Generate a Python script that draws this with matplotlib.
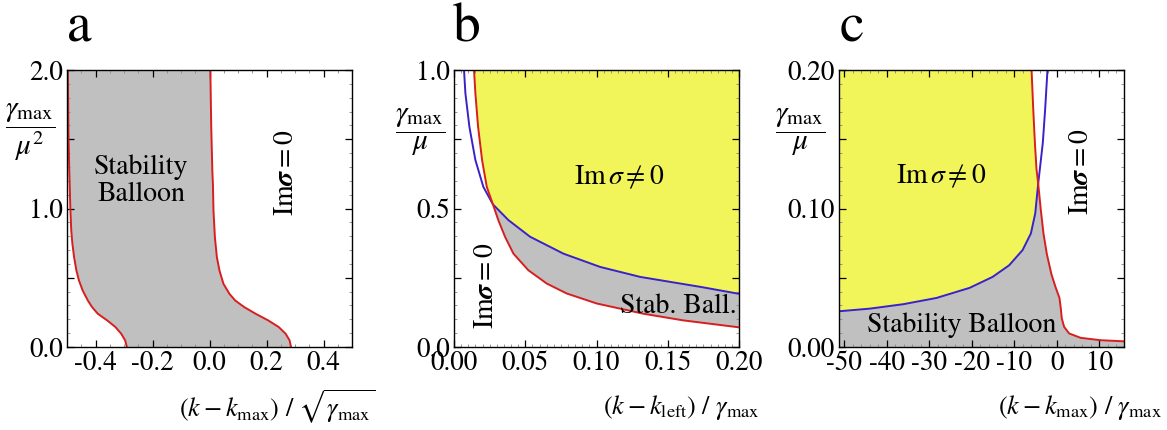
import matplotlib
matplotlib.use("Agg")
import matplotlib.pyplot as plt
from matplotlib.ticker import MultipleLocator, FixedLocator, FixedFormatter

plt.rcParams['font.family'] = ['STIXGeneral', 'Liberation Serif', 'DejaVu Serif']
plt.rcParams['mathtext.fontset'] = 'stix'

# ---------------- Panel a data ----------------
a_left_y = [0.0, 0.048, 0.096, 0.144, 0.192, 0.240, 0.288, 0.336, 0.408, 0.480, 0.552,
            0.647, 0.743, 0.839, 0.983, 1.127, 1.27, 1.55, 2.0]
a_left_x = [-0.290, -0.296, -0.310, -0.330, -0.359, -0.392, -0.412, -0.427, -0.445, -0.458, -0.467,
            -0.475, -0.481, -0.485, -0.488, -0.490, -0.492, -0.495, -0.497]
a_right_y = [0.0, 0.048, 0.096, 0.144, 0.192, 0.240, 0.288, 0.336, 0.384, 0.456, 0.552,
             0.647, 0.791, 0.983, 1.175, 1.27, 1.6, 2.0]
a_right_x = [0.286, 0.281, 0.267, 0.243, 0.206, 0.162, 0.122, 0.090, 0.070, 0.049, 0.035,
             0.026, 0.019, 0.014, 0.012, 0.010, 0.006, 0.003]

# ---------------- Panel b data ----------------
b_red_x = [0.01405, 0.0150, 0.0169, 0.0197, 0.0230, 0.0273, 0.0311, 0.0358, 0.0417, 0.0522,
           0.0651, 0.0792, 0.1002, 0.133, 0.161, 0.2]
b_red_y = [1.0, 0.916, 0.795, 0.675, 0.578, 0.515, 0.458, 0.398, 0.337, 0.277,
           0.229, 0.193, 0.157, 0.120, 0.096, 0.071]
b_blue_x = [0.00703, 0.0080, 0.0108, 0.0150, 0.0206, 0.0273, 0.0382, 0.0534, 0.0768, 0.1026,
            0.1307, 0.173, 0.2]
b_blue_y = [1.0, 0.916, 0.795, 0.675, 0.578, 0.515, 0.458, 0.398, 0.337, 0.289,
            0.253, 0.217, 0.192]
b_red_cross = 5
b_blue_cross = 5

# ---------------- Panel c data ----------------
c_blue_x = [-51.2, -43.96, -36.1, -28.3, -20.5, -15.1, -11.2, -8.04, -6.09, -5.07, -4.37,
            -3.28, -2.73, -2.19]
c_blue_y = [0.0258, 0.0277, 0.0309, 0.0354, 0.0427, 0.0506, 0.059, 0.070, 0.082, 0.0964, 0.118,
            0.1476, 0.172, 0.2]
c_red_x = [-5.93, -5.54, -5.15, -4.76, -4.37, -3.75, -3.12, -2.34, -1.25, -0.23, 0.63, 0.94,
           1.17, 1.72, 2.89, 5.62, 10.3, 15.8]
c_red_y = [0.2, 0.172, 0.1476, 0.128, 0.118, 0.0988, 0.0817, 0.0671, 0.0524, 0.0427, 0.0354, 0.028,
           0.0207, 0.0146, 0.0098, 0.0066, 0.0049, 0.0041]
c_blue_cross = 10
c_red_cross = 4

RED = '#d81e1e'
BLUE = '#3a22c8'
GRAY = '#c0c0c0'
YELLOW = '#f2f55a'

W, H = 1167, 430
fig = plt.figure(figsize=(W / 100, H / 100), dpi=100)


def px_axes(left, right, top=70, bottom=347):
    return fig.add_axes([left / W, 1 - bottom / H, (right - left) / W, (bottom - top) / H])


def style(ax):
    ax.tick_params(which='both', direction='in', top=True, right=True, labelsize=19.5, pad=3)
    ax.tick_params(which='major', length=5, width=0.9)
    ax.tick_params(which='minor', length=2.5, width=0.6, color='#888888')
    for s in ax.spines.values():
        s.set_linewidth(1.0)


TXT = 20
LW = 1.4
FRAC = 21

# ---------------- Panel a ----------------
ax = px_axes(67, 352)
ax.set_xlim(-0.5, 0.5)
ax.set_ylim(0, 2.0)
ax.fill(a_left_x + a_right_x[::-1], a_left_y + a_right_y[::-1], color=GRAY, lw=0)
ax.plot(a_left_x, a_left_y, color=RED, lw=LW)
ax.plot(a_right_x, a_right_y, color=RED, lw=LW)
ax.xaxis.set_major_locator(FixedLocator([-0.4, -0.2, 0.0, 0.2, 0.4]))
ax.xaxis.set_major_formatter(FixedFormatter(['-0.4', '-0.2', '0.0', '0.2', '0.4']))
ax.xaxis.set_minor_locator(MultipleLocator(0.05))
ax.yaxis.set_major_locator(FixedLocator([0.0, 0.5, 1.0, 1.5, 2.0]))
ax.yaxis.set_major_formatter(FixedFormatter(['0.0', '', '1.0', '', '2.0']))
ax.yaxis.set_minor_locator(MultipleLocator(0.1))
style(ax)
ax.text(-0.239, 1.2, 'Stability\nBalloon', ha='center', va='center', fontsize=TXT, linespacing=1.1)
ax.text(0.27, 1.26, r'$\mathrm{Im}\boldsymbol{\sigma}=0$', rotation=90, ha='center', va='center', fontsize=TXT)
fig.text(67 / W, 1 - 42 / H, 'a', fontsize=40, ha='left', va='baseline')
fig.text(30 / W, 1 - 132 / H, r'$\dfrac{\gamma_{\mathrm{max}}}{\mu^2}$', fontsize=FRAC, ha='center', va='center')
fig.text(376 / W, 1 - 407 / H, r'$(k-k_{\mathrm{max}})\ /\ \sqrt{\gamma_{\mathrm{max}}}$', fontsize=19,
         ha='right', va='center')

# ---------------- Panel b ----------------
ax = px_axes(454, 739)
ax.set_xlim(0, 0.2)
ax.set_ylim(0, 1.0)
yel_x = b_red_x[:b_red_cross + 1] + b_blue_x[b_blue_cross:] + [0.2, b_red_x[0]]
yel_y = b_red_y[:b_red_cross + 1] + b_blue_y[b_blue_cross:] + [1.0, 1.0]
ax.fill(yel_x, yel_y, color=YELLOW, lw=0)
gr_x = b_blue_x[b_blue_cross:] + b_red_x[b_red_cross:][::-1]
gr_y = b_blue_y[b_blue_cross:] + b_red_y[b_red_cross:][::-1]
ax.fill(gr_x, gr_y, color=GRAY, lw=0)
ax.plot(b_blue_x, b_blue_y, color=BLUE, lw=LW)
ax.plot(b_red_x, b_red_y, color=RED, lw=LW)
ax.xaxis.set_major_locator(FixedLocator([0.0, 0.05, 0.10, 0.15, 0.20]))
ax.xaxis.set_major_formatter(FixedFormatter(['0.00', '0.05', '0.10', '0.15', '0.20']))
ax.xaxis.set_minor_locator(MultipleLocator(0.005))
ax.yaxis.set_major_locator(FixedLocator([0.0, 0.25, 0.5, 0.75, 1.0]))
ax.yaxis.set_major_formatter(FixedFormatter(['0.0', '', '0.5', '', '1.0']))
ax.yaxis.set_minor_locator(MultipleLocator(0.05))
style(ax)
ax.text(0.116, 0.614, r'$\mathrm{Im}\,\sigma\neq 0$', ha='center', va='center', fontsize=TXT)
ax.text(0.1985, 0.148, 'Stab. Ball.', ha='right', va='center', fontsize=TXT)
ax.text(0.0227, 0.22, r'$\mathrm{Im}\boldsymbol{\sigma}=0$', rotation=90, ha='center', va='center', fontsize=TXT)
fig.text(453 / W, 1 - 42 / H, 'b', fontsize=40, ha='left', va='baseline')
fig.text(420 / W, 1 - 132 / H, r'$\dfrac{\gamma_{\mathrm{max}}}{\mu}$', fontsize=FRAC, ha='center', va='center')
fig.text(760 / W, 1 - 407 / H, r'$(k-k_{\mathrm{left}})\ /\ \gamma_{\mathrm{max}}$', fontsize=19,
         ha='right', va='center')

# ---------------- Panel c ----------------
ax = px_axes(839, 1124)
xl, xr = -51.2, 15.8
ax.set_xlim(xl, xr)
ax.set_ylim(0, 0.2)
yel_x = c_blue_x[:c_blue_cross + 1] + c_red_x[:c_red_cross + 1][::-1] + [xl]
yel_y = c_blue_y[:c_blue_cross + 1] + c_red_y[:c_red_cross + 1][::-1] + [0.2]
ax.fill(yel_x, yel_y, color=YELLOW, lw=0)
gr_x = [xl] + c_blue_x[:c_blue_cross + 1] + c_red_x[c_red_cross:] + [xr, xl]
gr_y = [0.0] + c_blue_y[:c_blue_cross + 1] + c_red_y[c_red_cross:] + [0.0, 0.0]
ax.fill(gr_x, gr_y, color=GRAY, lw=0)
ax.plot(c_blue_x, c_blue_y, color=BLUE, lw=LW)
ax.plot(c_red_x, c_red_y, color=RED, lw=LW)
ax.xaxis.set_major_locator(FixedLocator([-50, -40, -30, -20, -10, 0, 10]))
ax.xaxis.set_major_formatter(FixedFormatter(['-50', '-40', '-30', '-20', '-10', '0', '10']))
ax.xaxis.set_minor_locator(MultipleLocator(2))
ax.yaxis.set_major_locator(FixedLocator([0.0, 0.05, 0.10, 0.15, 0.20]))
ax.yaxis.set_major_formatter(FixedFormatter(['0.00', '', '0.10', '', '0.20']))
ax.yaxis.set_minor_locator(MultipleLocator(0.01))
style(ax)
ax.text(-27.1, 0.123, r'$\mathrm{Im}\,\sigma\neq 0$', ha='center', va='center', fontsize=TXT)
ax.text(-22.4, 0.0157, 'Stability Balloon', ha='center', va='center', fontsize=TXT)
ax.text(5.7, 0.1265, r'$\mathrm{Im}\boldsymbol{\sigma}=0$', rotation=90, ha='center', va='center', fontsize=TXT)
fig.text(840 / W, 1 - 42 / H, 'c', fontsize=40, ha='left', va='baseline')
fig.text(800 / W, 1 - 132 / H, r'$\dfrac{\gamma_{\mathrm{max}}}{\mu}$', fontsize=FRAC, ha='center', va='center')
fig.text(1162 / W, 1 - 407 / H, r'$(k-k_{\mathrm{max}})\ /\ \gamma_{\mathrm{max}}$', fontsize=19,
         ha='right', va='center')

fig.savefig('out.png', dpi=100)
